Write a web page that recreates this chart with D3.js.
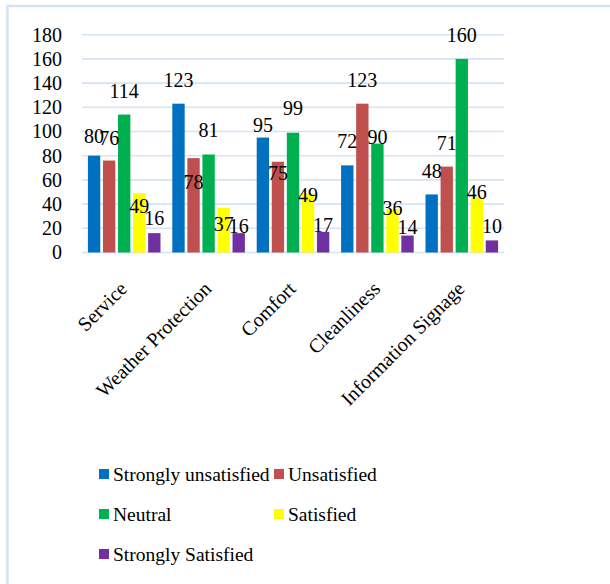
<!DOCTYPE html>
<html>
<head>
<meta charset="utf-8">
<script src="https://cdn.jsdelivr.net/npm/d3@7"></script>
<style>
  body { margin: 0; background: #fff; }
</style>
</head>
<body>
<svg id="chart"></svg>
<script>
// Categories and series
const categories = ["Service", "Weather Protection", "Comfort", "Cleanliness", "Information Signage"];
const seriesNames = ["Strongly unsatisfied", "Unsatisfied", "Neutral", "Satisfied", "Strongly Satisfied"];
const stronglyUnsatisfied = [80, 123, 95, 72, 48];
const unsatisfied = [76, 78, 75, 123, 71];
const neutral = [114, 81, 99, 90, 160];
const satisfied = [49, 37, 49, 36, 46];
const stronglySatisfied = [16, 16, 17, 14, 10];
const yTicks = [0, 20, 40, 60, 80, 100, 120, 140, 160, 180];

const seriesValues = [stronglyUnsatisfied, unsatisfied, neutral, satisfied, stronglySatisfied];
const colors = ["#0070c0", "#c0504d", "#00b050", "#ffff00", "#7030a0"];
const font = '"Liberation Serif"';

// labels were dragged by hand in the original, so each has its own lift (px above bar top)
const labelLift = [
  [13, 17, 6, 17, 16],
  [16, -31, -18, 17, 17],
  [17, 17, 18, 0, 17],
  [-20, -23, -9, -6, -2],
  [8, 0, 0, 2, 7]
];

const width = 610, height = 584;
const svg = d3.select("#chart")
  .attr("width", width).attr("height", height);

// light blue frame (only top and left edges show)
svg.append("rect")
  .attr("x", 7.5).attr("y", 6)
  .attr("width", 700).attr("height", 700)
  .attr("fill", "none")
  .attr("stroke", "#d5e2f4")
  .attr("stroke-width", 2.5);

const x0 = d3.scaleBand().domain(categories).range([82, 504])
  .paddingInner(0.14).paddingOuter(0.07);
const x1 = d3.scaleBand().domain(d3.range(seriesNames.length))
  .range([0, x0.bandwidth()]).paddingInner(0.18);
const y = d3.scaleLinear().domain([0, 180]).range([252.5, 34.7]);

// gridlines
svg.append("g").selectAll("line")
  .data(yTicks)
  .join("line")
  .attr("x1", 82).attr("x2", 504)
  .attr("y1", d => y(d)).attr("y2", d => y(d))
  .attr("stroke", "#d6e3f4")
  .attr("stroke-width", 1.6);

// y axis labels
const yAxis = svg.append("g")
  .attr("transform", "translate(70,0)")
  .call(d3.axisLeft(y).tickValues(yTicks).tickSize(0).tickPadding(8));
yAxis.attr("font-family", null).attr("font-size", null);
yAxis.select(".domain").remove();
yAxis.selectAll("text")
  .attr("font-family", font)
  .attr("font-size", 20)
  .attr("fill", "#000");

// bars
const groups = svg.append("g").selectAll("g")
  .data(categories)
  .join("g")
  .attr("transform", d => `translate(${x0(d)},0)`);

groups.selectAll("rect")
  .data((c, ci) => seriesValues.map((vals, si) => ({si, v: vals[ci]})))
  .join("rect")
  .attr("x", d => x1(d.si))
  .attr("width", x1.bandwidth())
  .attr("y", d => y(d.v))
  .attr("height", d => y(0) - y(d.v))
  .attr("fill", d => colors[d.si]);

// data labels on top of everything
const labels = svg.append("g");
categories.forEach((c, ci) => {
  seriesValues.forEach((vals, si) => {
    labels.append("text")
      .attr("x", x0(c) + x1(si) + x1.bandwidth() / 2)
      .attr("y", y(vals[ci]) - labelLift[si][ci])
      .attr("text-anchor", "middle")
      .attr("font-family", font)
      .attr("font-size", 20)
      .attr("fill", "#000")
      .text(vals[ci]);
  });
});

// category labels, rotated
svg.append("g").selectAll("text")
  .data(categories)
  .join("text")
  .attr("transform", d => `translate(${x0(d) + x0.bandwidth() / 2 + 4},290) rotate(-45)`)
  .attr("text-anchor", "end")
  .attr("font-family", font)
  .attr("font-size", 20)
  .attr("fill", "#000")
  .text(d => d);

// legend: two columns, three rows
const legend = svg.append("g").selectAll("g")
  .data(seriesNames)
  .join("g")
  .attr("transform", (d, i) => `translate(${i % 2 === 0 ? 99 : 274},${469 + Math.floor(i / 2) * 40})`);

legend.append("rect")
  .attr("width", 10).attr("height", 10)
  .attr("fill", (d, i) => colors[i]);

legend.append("text")
  .attr("x", 14).attr("y", 12)
  .attr("font-family", font)
  .attr("font-size", 19.5)
  .attr("fill", "#000")
  .text(d => d);
</script>
</body>
</html>
